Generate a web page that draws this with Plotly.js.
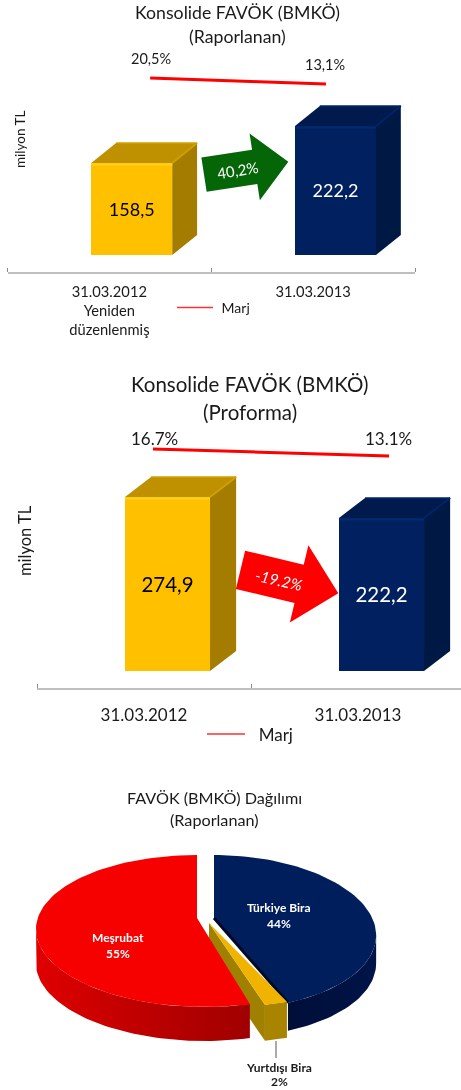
<!DOCTYPE html>
<html><head><meta charset="utf-8">
<script src="https://cdn.plot.ly/plotly-3.0.1.min.js"></script>
<style>html,body{margin:0;padding:0;background:#fff}#c{width:461px;height:1090px;filter:blur(0.45px)}</style>
</head><body><div id="c"></div>
<script>
// ---------- data ----------
const reportedCats = ['31.03.2012<br>Yeniden<br>düzenlenmiş', '31.03.2013'];
const reportedFavok = [158.5, 222.2];
const reportedFavokLabels = ['158,5', '222,2'];
const reportedMargin = [20.5, 13.1];
const reportedMarginLabels = ['20,5%', '13,1%'];
const proformaCats = ['31.03.2012', '31.03.2013'];
const proformaFavok = [274.9, 222.2];
const proformaFavokLabels = ['274,9', '222,2'];
const proformaMargin = [16.7, 13.1];
const proformaMarginLabels = ['16.7%', '13.1%'];
const pieNames = ['Türkiye Bira', 'Yurtdışı Bira', 'Meşrubat'];
const pieShares = [44, 2, 55];

// ---------- page helpers ----------
const W = 461, H = 1090;
const FONT = 'Lato, Carlito, Calibri, sans-serif';
const px = x => x / W, py = y => 1 - y / H;
const traces = [], annotations = [], shapes = [];
const layout = {
  width: W, height: H, margin: {l: 0, r: 0, t: 0, b: 0}, autosize: false,
  paper_bgcolor: '#fff', plot_bgcolor: 'rgba(0,0,0,0)', font: {family: FONT, color: '#1a1a1a'},
  bargap: 0, barmode: 'overlay', hovermode: false, showlegend: true,
  annotations, shapes
};
function text(str, x, y, size, opt = {}) {
  annotations.push(Object.assign({
    text: str, x: px(x), y: py(y), xref: 'paper', yref: 'paper', showarrow: false,
    xanchor: 'center', yanchor: 'middle', font: {size, color: opt.color || '#1a1a1a', family: FONT}
  }, opt.extra || {}));
}
function poly(xs, ys, color, xa, ya, extra) {
  traces.push(Object.assign({
    type: 'scatter', mode: 'lines', x: xs.concat(xs[0]), y: ys.concat(ys[0]), xaxis: xa, yaxis: ya,
    fill: 'toself', fillcolor: color, line: {width: 0}, showlegend: false, hoverinfo: 'skip'
  }, extra || {}));
}
function edge(xs, ys, color, width, xa, ya) {
  traces.push({type: 'scatter', mode: 'lines', x: xs, y: ys, xaxis: xa, yaxis: ya,
    line: {color, width}, showlegend: false, hoverinfo: 'skip'});
}
function arrow(x0, y0, x1, y1, halfShaft, halfHead, headLen, color) {
  const L = Math.hypot(x1 - x0, y1 - y0), ux = (x1 - x0) / L, uy = (y1 - y0) / L, nx = -uy, ny = ux;
  const P = (along, side) => [x0 + ux * along + nx * side, y0 + uy * along + ny * side];
  const pts = [P(0, -halfShaft), P(L - headLen, -halfShaft), P(L - headLen, -halfHead), P(L, 0),
               P(L - headLen, halfHead), P(L - headLen, halfShaft), P(0, halfShaft)];
  shapes.push({type: 'path', xref: 'paper', yref: 'paper', layer: 'above', line: {width: 0}, fillcolor: color,
    path: 'M' + pts.map(p => px(p[0]).toFixed(5) + ' ' + py(p[1]).toFixed(5)).join('L') + 'Z'});
}

const YELLOW = {front: '#FFC000', top: '#BF9000', side: '#A37C00', edge: '#FFD21A', ridge: '#D0A000'};
const BLUE = {front: '#002060', top: '#001A4E', side: '#001844', edge: '#002A72', ridge: '#00246A'};
const FACES = [YELLOW, BLUE];

// ---------- one bar panel ----------
function barPanel(c) {
  const xa = 'x' + c.n, ya = 'y' + c.n, ya2 = 'y' + (c.n + 1);
  const xid = c.n === 1 ? 'xaxis' : 'xaxis' + c.n, yid = c.n === 1 ? 'yaxis' : 'yaxis' + c.n, y2id = 'yaxis' + (c.n + 1);
  const axisY = c.axisPx, topPx = c.topPx, k = c.perPx;
  const yAt = p => c.baseVal + (c.basePx - p) * k;
  const y2At = p => c.margin[0] + (c.marginPx0 - p) / c.marginPxPerPt;
  const rangeEndPx = c.xRightPx;
  layout[xid] = {
    domain: [px(c.xLeftPx), px(rangeEndPx)], range: [-0.5, -0.5 + (rangeEndPx - c.xLeftPx) / c.catPx],
    anchor: ya, showgrid: false, zeroline: false, showline: true, linecolor: '#BFBFBF', linewidth: 2,
    tickmode: 'array', tickvals: [0, 1], ticktext: c.cats, ticks: '', ticklabelstandoff: c.standoff,
    tickfont: {size: c.tickSize, color: '#1a1a1a', family: FONT},
    minor: {tickmode: 'array', tickvals: [-0.5, 0.5, 1.5], ticks: 'inside', ticklen: 4, tickwidth: 1, tickcolor: '#8c8c8c', showgrid: false}
  };
  layout[yid] = {domain: [py(axisY), py(topPx)], range: [yAt(axisY), yAt(topPx)], anchor: xa, visible: false, fixedrange: true};
  layout[y2id] = {domain: [py(axisY), py(topPx)], range: [y2At(axisY), y2At(topPx)], overlaying: ya, anchor: xa, visible: false, fixedrange: true};

  // front faces: the bars themselves
  const OFF = -0.089, WIDTH = 0.3975, DX = 0.122, DY = 20 * k;
  traces.push({
    type: 'bar', x: [0, 1], y: c.values.map(v => v - c.baseVal), base: c.baseVal, offset: OFF, width: WIDTH,
    xaxis: xa, yaxis: ya, marker: {color: FACES.map(f => f.front), line: {width: 0}},
    text: c.labels, textposition: 'inside', insidetextanchor: 'middle', textangle: 0, constraintext: 'none',
    insidetextfont: {size: c.valueSize, color: ['#000000', '#ffffff'], family: FONT},
    showlegend: false, hoverinfo: 'skip'
  });
  // top and side faces and bevels derived from the same values
  c.values.forEach((v, i) => {
    const x0 = i + OFF, x1 = x0 + WIDTH, f = FACES[i];
    poly([x0, x1, x1 + DX, x0 + DX], [v, v, v + DY, v + DY], f.top, xa, ya);
    poly([x1, x1 + DX, x1 + DX, x1], [v, v + DY, c.baseVal + DY, c.baseVal], f.side, xa, ya);
    edge([x0, x1], [v - 1.5 * k, v - 1.5 * k], f.edge, 2, xa, ya);
    edge([x1, x1 + DX], [v, v + DY], f.ridge, 2, xa, ya);
    edge([x0 + DX, x1 + DX], [v + DY, v + DY], f.ridge, 1.5, xa, ya);
  });
  // margin line
  traces.push({
    type: 'scatter', mode: 'lines', x: c.marginX, y: c.margin, xaxis: xa, yaxis: ya2,
    line: {color: '#FF0000', width: 3}, showlegend: false, hoverinfo: 'skip'
  });
  // legend-only sample in the thinner style of the key
  const legendId = c.n === 1 ? 'legend' : 'legend2';
  traces.push({
    type: 'scatter', mode: 'lines', x: [null], y: [null], xaxis: xa, yaxis: ya2, name: c.legendName, legend: legendId,
    line: {color: '#FF3030', width: 1.5}, showlegend: true, hoverinfo: 'skip'
  });
  layout[legendId] = {
    x: px(c.legendX), y: py(c.legendY), xanchor: 'left', yanchor: 'middle', bgcolor: 'rgba(0,0,0,0)',
    font: {size: c.legendSize, color: '#1a1a1a', family: FONT}, itemwidth: c.legendWidth, borderwidth: 0,
    itemclick: false, itemdoubleclick: false
  };
  // margin labels
  c.marginLabels.forEach((t, i) => annotations.push({
    text: t, x: c.marginX[i], y: c.margin[i], xref: xa, yref: ya2, showarrow: false, xanchor: 'center', yanchor: 'middle',
    xshift: c.marginShift[i][0], yshift: c.marginShift[i][1], font: {size: c.marginSize, color: '#1a1a1a', family: FONT}
  }));
}

barPanel({
  n: 1, cats: reportedCats, values: reportedFavok, labels: reportedFavokLabels, margin: reportedMargin, marginLabels: reportedMarginLabels,
  xLeftPx: 7.5, xRightPx: 415, catPx: 203.75, axisPx: 272, topPx: 45, basePx: 255, baseVal: 0, perPx: 1.722,
  marginX: [0.2, 1.063], marginPx0: 78, marginPxPerPt: 0.811, marginShift: [[1, 19], [-1, 19]],
  marginSize: 14.5, valueSize: 18, tickSize: 14.7, standoff: 5,
  legendX: 172, legendY: 308, legendSize: 14, legendWidth: 36, legendName: '\u00A0Marj'
});
barPanel({
  n: 3, cats: proformaCats, values: proformaFavok, labels: proformaFavokLabels, margin: proformaMargin, marginLabels: proformaMarginLabels,
  xLeftPx: 37, xRightPx: 461, catPx: 214, axisPx: 688, topPx: 425, basePx: 671, baseVal: -162, perPx: 2.51,
  marginX: [0.042, 1.145], marginPx0: 449, marginPxPerPt: 1.944, marginShift: [[2, 11], [-1, 18]],
  marginSize: 17, valueSize: 20.5, tickSize: 17, standoff: 11,
  legendX: 202, legendY: 734.5, legendSize: 17, legendWidth: 38, legendName: '\u00A0\u00A0Marj'
});

// titles and side labels
text('Konsolide FAVÖK (BMKÖ)', 237, 13, 17.7);
text('(Raporlanan)', 237, 37, 17.7);
text('milyon TL', 20, 139, 13.5, {extra: {textangle: -90}});
text('Konsolide FAVÖK (BMKÖ)', 250, 384, 20.5);
text('(Proforma)', 250, 412, 20.5);
text('milyon TL', 25, 541, 16.5, {extra: {textangle: -90}});
text('FAVÖK (BMKÖ) Dağılımı', 214, 797, 16.2);
text('(Raporlanan)', 214, 819, 16.2);

// change arrows
arrow(204, 174.7, 288.3, 161.7, 17.3, 33.8, 34, '#056608');
text('40,2%', 238, 170, 15, {color: '#fff', extra: {textangle: -9}});
arrow(240.5, 569.8, 338.3, 593.3, 19.7, 39.7, 40.3, '#FF0000');
text('-19.2%', 279, 580, 15.5, {color: '#fff', extra: {textangle: 13, font: {size: 15.5, color: '#fff', family: FONT, style: 'italic'}}});

// ---------- pie drawn on a pixel-scaled axis pair ----------
layout.xaxis5 = {domain: [0, 1], range: [0, W], anchor: 'y5', visible: false, fixedrange: true};
layout.yaxis5 = {domain: [0, py(835)], range: [H, 835], anchor: 'x5', visible: false, fixedrange: true};
const total = pieShares.reduce((a, b) => a + b, 0);
let acc = 0;
const angles = pieShares.map(s => { const a = [acc / total * 360, (acc + s) / total * 360]; acc += s; return a; });
const GEOM = [
  {ax: 214, ay: 918, x0: 214, rx: 155.3, s: 6.7, cy: 932, ry: 77, depth: 28, wallFrom: 92},
  {ax: 209, ay: 923, x0: 209, rx: 188.7, s: 1.94, cy: 936.6, ry: 71, depth: 36},
  {ax: 197, ay: 918, x0: 197, rx: 164.75, s: 3.75, cy: 931, ry: 76, depth: 34, wallFrom: 272}
];
function rim(g, deg) {
  const t = deg * Math.PI / 180;
  return [g.x0 + g.rx * Math.sin(t) + g.s * (1 - Math.cos(t)), g.cy - g.ry * Math.cos(t)];
}
function arc(g, a, b) {
  const out = [], n = Math.max(2, Math.ceil(Math.abs(b - a) / 2));
  for (let i = 0; i <= n; i++) out.push(rim(g, a + (b - a) * i / n));
  return out;
}
function sector(i, fill) {
  const g = GEOM[i], pts = arc(g, angles[i][0], angles[i][1]);
  poly([g.ax].concat(pts.map(p => p[0])), [g.ay].concat(pts.map(p => p[1])), fill, 'x5', 'y5');
}
function wall(g, a, b, color, grad) {
  const pts = arc(g, a, b), xs = pts.map(p => p[0]), ys = pts.map(p => p[1]);
  poly(xs.concat(xs.slice().reverse()), ys.concat(ys.slice().reverse().map(y => y + g.depth)), color, 'x5', 'y5',
       grad ? {fillgradient: {type: 'horizontal', colorscale: grad}} : null);
}
// blue
wall(GEOM[0], GEOM[0].wallFrom, angles[0][1], '#001040', [[0, '#000E38'], [1, '#001448']]);
sector(0, '#001E5C');
{
  const g = GEOM[0], e = rim(g, angles[0][1]);
  edge([g.ax, e[0]], [g.ay, e[1]], '#000A26', 3, 'x5', 'y5');
}
// yellow inner wall sits behind red
{
  const g = GEOM[1], l = rim(g, angles[1][1]);
  poly([g.ax, l[0], l[0], g.ax], [g.ay, l[1], l[1] + g.depth, g.ay + g.depth], '#A08000', 'x5', 'y5');
}
// red
wall(GEOM[2], angles[2][0], GEOM[2].wallFrom, '#C00000', [[0, '#E00000'], [0.4, '#C40000'], [1, '#A00000']]);
sector(2, '#F60000');
// yellow top + outer wall
wall(GEOM[1], angles[1][0], angles[1][1], '#A88400');
sector(1, '#F0B400');
// leader line
shapes.push({type: 'line', xref: 'paper', yref: 'paper', x0: px(276), x1: px(276), y0: py(1041), y1: py(1058), line: {color: '#555', width: 1}});
// pie labels
function pieLabel(i, x, y, color, gap) {
  text('<b>' + pieNames[i] + '</b>', x, y, 12, {color});
  text('<b>' + pieShares[i] + '%</b>', x, y + gap, 12, {color});
}
pieLabel(0, 279, 907, '#fff', 16);
pieLabel(2, 118, 937, '#fff', 16);
pieLabel(1, 279, 1067, '#1a1a1a', 14);

Plotly.newPlot('c', traces, layout, {staticPlot: true, displayModeBar: false});
</script></body></html>
